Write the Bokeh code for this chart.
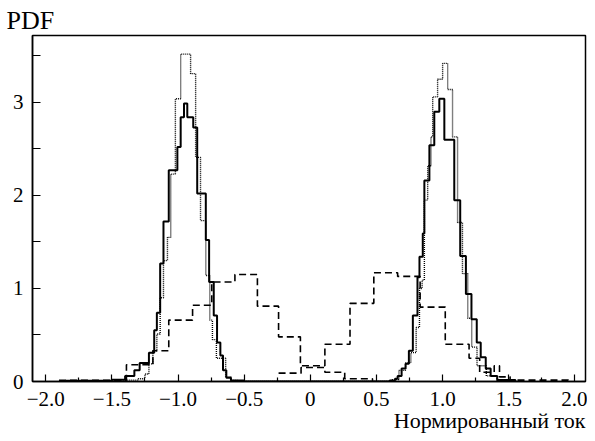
from bokeh.plotting import figure
from bokeh.models import FixedTicker, Range1d, Title
from bokeh.embed import file_html
from bokeh.resources import INLINE

# ---- data (bin edges and heights) ----
solid_edges = [-1.85, -1.50, -1.40, -1.33, -1.29, -1.22, -1.18, -1.16, -1.135, -1.11,
               -1.07, -1.005, -0.98, -0.955, -0.93, -0.885, -0.855, -0.79, -0.765, -0.73,
               -0.705, -0.68, -0.66, -0.635, -0.60, -0.50,
               0.60, 0.64, 0.66, 0.69, 0.72, 0.745, 0.775, 0.81, 0.825, 0.85,
               0.862, 0.90, 0.937, 0.975, 1.013, 1.088, 1.133, 1.176, 1.218, 1.258,
               1.288, 1.326, 1.363, 1.413, 1.55]
solid_heights = [0.008, 0.02, 0.06, 0.12, 0.20, 0.31, 0.55, 0.74, 1.27,
                 1.72, 2.27, 2.52, 2.84, 2.99, 2.84, 2.73, 2.02, 1.52, 1.07,
                 0.71, 0.42, 0.28, 0.12, 0.04, 0.01,
                 0.0,
                 0.01, 0.03, 0.06, 0.14, 0.19, 0.33, 0.71, 1.12, 1.34,
                 1.59, 2.16, 2.54, 2.90, 3.04, 2.60, 1.95, 1.35, 0.94, 0.67,
                 0.42, 0.26, 0.14, 0.06, 0.015]

dotted_edges = [-1.80, -1.45, -1.30, -1.25, -1.22, -1.19, -1.16, -1.135, -1.11, -1.08,
                -1.055, -1.02, -0.98, -0.905, -0.867, -0.83, -0.79, -0.76, -0.74, -0.71,
                -0.64, -0.60, -0.55,
                0.62, 0.67, 0.72, 0.76, 0.80, 0.825, 0.845, 0.862, 0.887, 0.912,
                0.925, 0.962, 1.00, 1.038, 1.075, 1.113, 1.15, 1.19, 1.22, 1.26,
                1.33, 1.41, 1.55]
dotted_heights = [0.005, 0.015, 0.03, 0.08, 0.19, 0.33, 0.51, 0.90, 1.30,
                  1.55, 2.23, 3.04, 3.52, 3.31, 2.41, 1.73, 1.14, 0.66, 0.45,
                  0.25, 0.05, 0.01,
                  0.0,
                  0.02, 0.12, 0.20, 0.31, 0.58, 1.00, 1.09, 1.95, 2.32,
                  2.63, 3.06, 3.25, 3.42, 3.14, 2.63, 1.71, 1.16, 0.68, 0.37,
                  0.17, 0.06, 0.01]

dashed_edges = [-1.90, -1.39, -1.19, -1.07, -0.89, -0.745, -0.57, -0.40, -0.24, -0.075,
                0.11, 0.30, 0.48, 0.66, 0.83, 1.02, 1.20, 1.28, 1.39, 1.43, 1.51, 1.95]
dashed_heights = [0.012, 0.18, 0.33, 0.66, 0.82, 1.07, 1.15, 0.81, 0.48,
                  0.17, 0.40, 0.84, 1.17, 1.13, 0.80, 0.40, 0.25, 0.10, 0.17, 0.05, 0.015]

dashed2_edges = [-0.24, -0.07, 0.11, 0.26, 0.47]
dashed2_heights = [0.09, 0.15, 0.10, 0.03]

x_ticks = [-2.0, -1.5, -1.0, -0.5, 0.0, 0.5, 1.0, 1.5, 2.0]
x_tick_labels = ["\u22122.0", "\u22121.5", "\u22121.0", "\u22120.5", "0", "0.5", "1.0", "1.5", "2.0"]
x_minor = [-1.75, -1.25, -0.75, -0.25, 0.25, 0.75, 1.25, 1.75]
y_ticks = [0, 1, 2, 3]
y_minor = [0.5, 1.5, 2.5, 3.5]

x_title = "Нормированный ток"
y_title = "PDF"

FONT = "Liberation Serif"

p = figure(width=587, height=433, x_range=Range1d(-2.1, 2.08), y_range=Range1d(0, 3.72),
           output_backend="svg", toolbar_location=None,
           min_border_left=32, min_border_right=2, min_border_top=35, min_border_bottom=52)
p.background_fill_color = "white"
p.border_fill_color = "white"
p.outline_line_color = "black"
p.outline_line_width = 1.5
p.xgrid.visible = False
p.ygrid.visible = False


def step(edges, heights, **kw):
    p.step(x=edges, y=list(heights) + [0.0], mode="after", **kw)


step(dashed_edges, dashed_heights, line_color="black", line_width=1.6, line_dash="7 4")
step(dashed2_edges, dashed2_heights, line_color="black", line_width=1.6, line_dash="7 4")
step(dotted_edges, dotted_heights, line_color="black", line_width=1.4, line_dash="1 1")
step(solid_edges, solid_heights, line_color="black", line_width=2.0)

xa = p.xaxis[0]
xa.ticker = FixedTicker(ticks=x_ticks, minor_ticks=x_minor)
xa.major_label_overrides = {v: s for v, s in zip(x_ticks, x_tick_labels)}
ya = p.yaxis[0]
ya.ticker = FixedTicker(ticks=y_ticks, minor_ticks=y_minor)

for ax in (xa, ya):
    ax.axis_line_color = "black"
    ax.axis_line_width = 1.5
    ax.major_tick_line_color = "black"
    ax.minor_tick_line_color = "black"
    ax.major_tick_line_width = 1.2
    ax.minor_tick_line_width = 1.2
    ax.major_tick_out = 0
    ax.minor_tick_out = 0
    ax.major_label_text_font = FONT
    ax.major_label_text_font_size = "21px"
    ax.major_label_text_color = "black"

xa.major_tick_in = 7
xa.minor_tick_in = 4
xa.major_label_standoff = 10
ya.major_tick_in = 8
ya.minor_tick_in = 8
ya.major_label_standoff = 9

p.add_layout(Title(text=y_title, align="left", offset=-26, text_font=FONT,
                   text_font_size="26px", text_font_style="normal", text_color="black",
                   standoff=2), "above")
p.add_layout(Title(text=x_title, align="right", offset=0, text_font=FONT,
                   text_font_size="22px", text_font_style="normal", text_color="black",
                   standoff=-6), "below")

open("out.html", "w").write(file_html(p, INLINE))
